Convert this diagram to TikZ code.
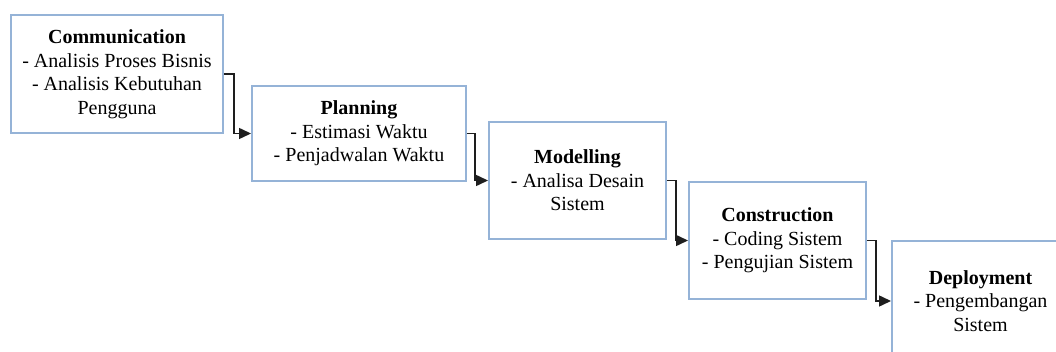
\documentclass[tikz,border=0pt]{standalone}
\usepackage{fontspec}
\setmainfont{Liberation Serif}
\usetikzlibrary{arrows.meta}
\definecolor{boxline}{RGB}{149,179,215}
\definecolor{flowline}{RGB}{30,30,30}
\begin{document}
\begin{tikzpicture}[x=1pt,y=-1pt,
  phase/.style={draw=boxline,line width=2pt,fill=white,rectangle,
    align=center,inner sep=0pt,
    font=\fontsize{20}{23.5}\selectfont},
  flow/.style={draw=flowline,line width=1.5pt,
    -{Triangle[length=12pt,width=11pt]}}]
\useasboundingbox (0,0) rectangle (1056,352);
\clip (0,0) rectangle (1056,352);
\fill[white] (0,0) rectangle (1056,352);

% the five phases, stepping down to the right
\node[phase,minimum width=212pt,minimum height=118pt] (comm) at (117,74)
  {\textbf{Communication}\\- Analisis Proses Bisnis\\- Analisis Kebutuhan\\Pengguna};
\node[phase,minimum width=214pt,minimum height=95pt] (plan) at (359,133.5)
  {\textbf{Planning}\\- Estimasi Waktu\\- Penjadwalan Waktu};
\node[phase,minimum width=177pt,minimum height=117pt] (model) at (577.5,180.5)
  {\textbf{Modelling}\\- Analisa Desain\\Sistem};
\node[phase,minimum width=177pt,minimum height=117pt] (constr) at (777.5,240.5)
  {\textbf{Construction}\\- Coding Sistem\\- Pengujian Sistem};
\node[phase,minimum width=177pt,minimum height=120pt] (deploy) at (980.5,301)
  {\textbf{Deployment}\\- Pengembangan\\Sistem};

% elbow connectors between consecutive phases
\draw[flow] (comm.east) -- ++(10,0) |- (plan.west);
\draw[flow] (plan.east) -- ++(8,0) |- (model.west);
\draw[flow] (model.east) -- ++(9,0) |- (constr.west);
\draw[flow] (constr.east) -- ++(9,0) |- (deploy.west);
\end{tikzpicture}
\end{document}
